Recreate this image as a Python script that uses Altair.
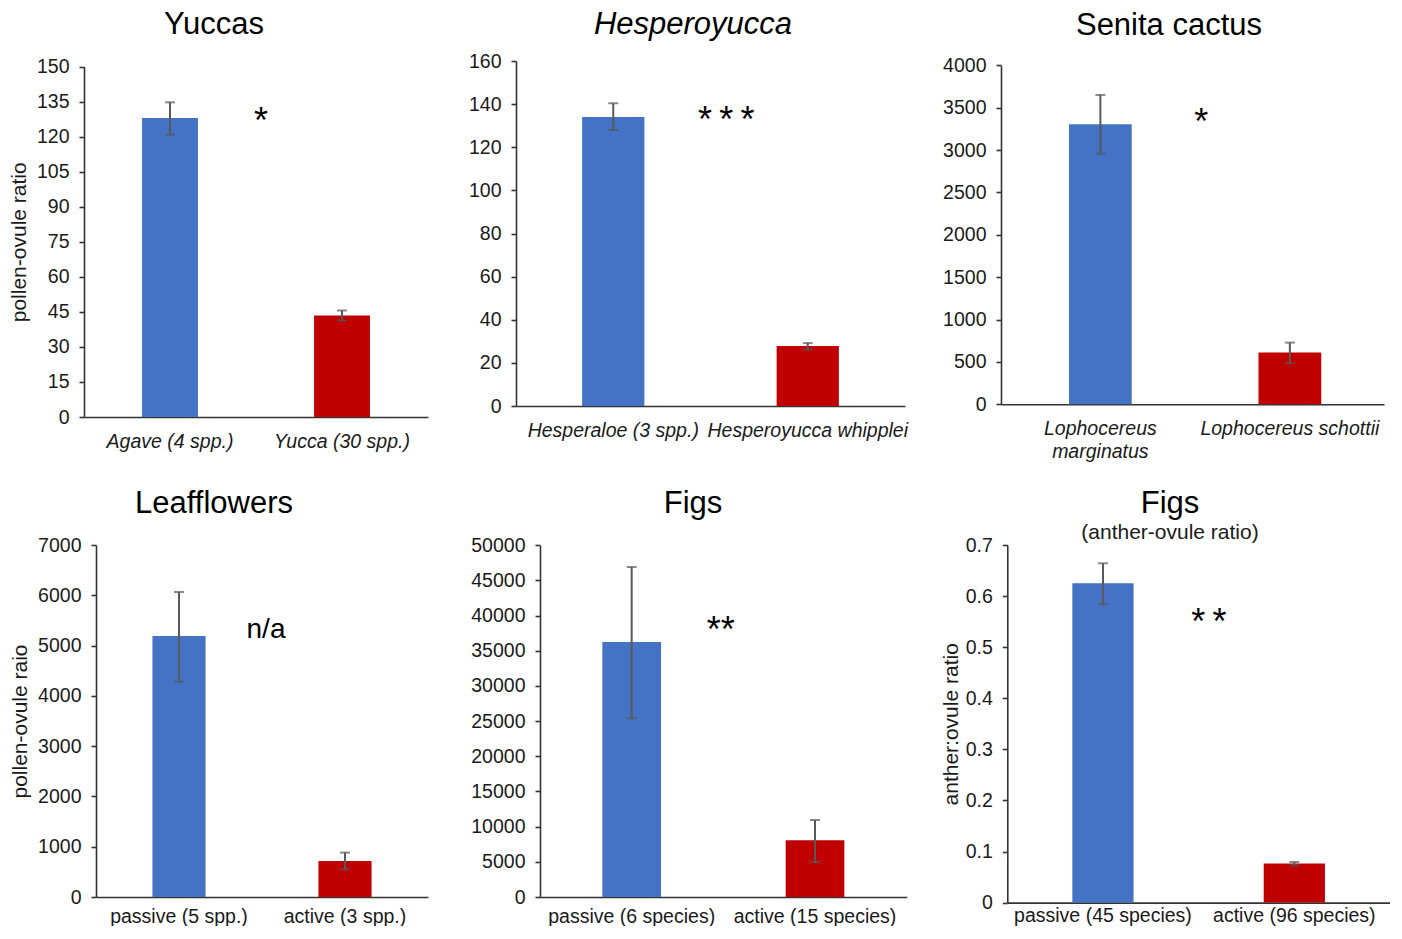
import altair as alt
import pandas as pd

FONT = "Liberation Sans"
BLUE = "#4472C4"
RED = "#C00000"
ERR = "#595959"
AXC = "#333333"
TXT = "#1a1a1a"

# ---------------- data ----------------
titles = ["Yuccas", "Hesperoyucca", "Senita cactus", "Leafflowers", "Figs", "Figs"]
subtitles = ["", "", "", "", "", "(anther-ovule ratio)"]
y_titles = ["pollen-ovule ratio", "", "", "pollen-ovule raio", "", "anther:ovule ratio"]

cats = [
    ["Agave (4 spp.)", "Yucca (30 spp.)"],
    ["Hesperaloe (3 spp.)", "Hesperoyucca whipplei"],
    ["Lophocereus|marginatus", "Lophocereus schottii"],
    ["passive (5 spp.)", "active (3 spp.)"],
    ["passive (6 species)", "active (15 species)"],
    ["passive (45 species)", "active (96 species)"],
]
means = [
    [128.0, 43.4],
    [134.0, 27.8],
    [3304, 610],
    [5190, 716],
    [36250, 8060],
    [0.625, 0.0763],
]
err_lo = [
    [120.9, 41.3],
    [128.0, 26.2],
    [2958, 484],
    [4283, 551],
    [25400, 4976],
    [0.584, 0.073],
]
err_hi = [
    [134.7, 45.6],
    [140.4, 29.2],
    [3650, 728],
    [6065, 883],
    [46915, 10947],
    [0.6642, 0.0795],
]
y_max = [150, 160, 4000, 7000, 50000, 0.7]
y_ticks = [
    [0, 15, 30, 45, 60, 75, 90, 105, 120, 135, 150],
    [0, 20, 40, 60, 80, 100, 120, 140, 160],
    [0, 500, 1000, 1500, 2000, 2500, 3000, 3500, 4000],
    [0, 1000, 2000, 3000, 4000, 5000, 6000, 7000],
    [0, 5000, 10000, 15000, 20000, 25000, 30000, 35000, 40000, 45000, 50000],
    [0, 0.1, 0.2, 0.3, 0.4, 0.5, 0.6, 0.7],
]
sig_text = ["*", "*\u2009*\u2009*", "*", "n/a", "**", "*\u2009*"]
sig_value = [121.5, 127.3, 3190, 5150, 36216, 0.526]

# ---------------- layout / style (per panel) ----------------
italic_labels = [True, True, True, False, False, False]
title_italic = [False, True, False, False, False, False]
y_fmt = ["d", "d", "d", "d", "d", ".1~f"]
sig_size = [36, 36, 36, 28, 36, 36]
sig_dx = [91, 113, 101, 87, 89, 106]
col_w = [432, 485, 389]
row_h = [356, 357.6]
x_range = [[0, 344], [0, 389], [0, 383], [12, 344], [24, 390.7], [6.3, 389]]
y_range = [[356, 5.6], [345, 0], [343.3, 4.3], [352, 0], [352, 0.3], [357.6, 0]]
pad_inner = [0.675, 0.68, 0.669, 0.68, 0.68, 0.68]
pad_outer = [0.3375, 0.34, 0.345, 0.34, 0.34, 0.34]
band_align = [0.5, 0.5, 0.52, 0.5, 0.5, 0.5]
title_dx = [-86, -65.5, -26.5, -86, -65.5, -25.5]
title_off = [16, 10, 13, 15, 15, -9]
ytitle_pad = [7, 7, 7, 7, 7, 4]
xlabel_pad = [15, 15, 15, 10, 10, 4]


def panel(i):
    row, col = divmod(i, 3)
    c = cats[i]
    df = pd.DataFrame({
        "cat": c,
        "mean": means[i],
        "lo": err_lo[i],
        "hi": err_hi[i],
        "grp": ["a", "b"],
    })
    sig_df = pd.DataFrame({"cat": [c[0]], "v": [sig_value[i]], "t": [sig_text[i]]})

    x_off = -(row_h[row] - y_range[i][0])
    y_off = -x_range[i][0]

    xscale = alt.Scale(domain=c, range=x_range[i], paddingInner=pad_inner[i],
                       paddingOuter=pad_outer[i], align=band_align[i])
    yscale = alt.Scale(domain=[0, y_max[i]], range=y_range[i], nice=False, zero=True)

    xaxis = alt.Axis(
        title=None, ticks=False, labelAngle=0, labelFont=FONT, labelFontSize=19.5,
        labelFontStyle="italic" if italic_labels[i] else "normal",
        labelColor=TXT, labelPadding=xlabel_pad[i], labelLimit=400, labelOverlap=False,
        domainColor=AXC, domainWidth=1.6, offset=x_off,
        labelExpr="split(datum.label, '|')", labelLineHeight=23, grid=False,
    )
    yaxis_kw = dict(
        values=y_ticks[i], format=y_fmt[i], labelFont=FONT, labelFontSize=19.5,
        labelColor=TXT, labelPadding=10, tickSize=5, tickColor=AXC, tickWidth=1.6,
        domainColor=AXC, domainWidth=1.6, offset=y_off, grid=False,
        labelOverlap=False, labelFlush=False,
    )
    if y_titles[i]:
        yaxis = alt.Axis(title=y_titles[i], titleFont=FONT, titleFontSize=21,
                         titleFontWeight="normal", titleColor=TXT,
                         titlePadding=ytitle_pad[i], **yaxis_kw)
    else:
        yaxis = alt.Axis(title=None, **yaxis_kw)

    X = alt.X("cat:N", scale=xscale, axis=xaxis, sort=c)

    def Y(f):
        return alt.Y(f"{f}:Q", scale=yscale, axis=yaxis)

    base = alt.Chart(df)
    bars = base.mark_bar().encode(
        x=X, y=Y("mean"),
        color=alt.Color("grp:N", scale=alt.Scale(domain=["a", "b"], range=[BLUE, RED]), legend=None),
    )
    rule = base.mark_rule(color=ERR, strokeWidth=2).encode(x=X, y=Y("lo"), y2="hi:Q")
    cap_lo = base.mark_tick(color=ERR, size=10, thickness=2).encode(x=X, y=Y("lo"))
    cap_hi = base.mark_tick(color=ERR, size=10, thickness=2).encode(x=X, y=Y("hi"))
    sig = alt.Chart(sig_df).mark_text(
        font=FONT, fontSize=sig_size[i], align="center", baseline="alphabetic",
        dx=sig_dx[i], color="black",
    ).encode(x=X, y=Y("v"), text="t:N")

    tkw = dict(
        text=titles[i], font=FONT, fontSize=31, fontWeight="normal",
        fontStyle="italic" if title_italic[i] else "normal", color="black",
        anchor="middle", frame="group", dx=title_dx[i], offset=title_off[i],
    )
    if subtitles[i]:
        tkw.update(subtitle=subtitles[i], subtitleFont=FONT, subtitleFontSize=21,
                   subtitleColor=TXT, subtitlePadding=2)

    return alt.layer(bars, rule, cap_lo, cap_hi, sig).properties(
        width=col_w[col], height=row_h[row], title=alt.TitleParams(**tkw)
    )


panels = [panel(i) for i in range(6)]

chart = alt.concat(
    *panels, columns=3, spacing={"row": 128, "column": 0}, bounds="flush"
).properties(
    padding={"left": 0, "top": 0, "right": 0, "bottom": 0},
    background="white",
).configure_view(stroke=None)

chart.save("out.html", embed_options={"renderer": "svg", "actions": False})
